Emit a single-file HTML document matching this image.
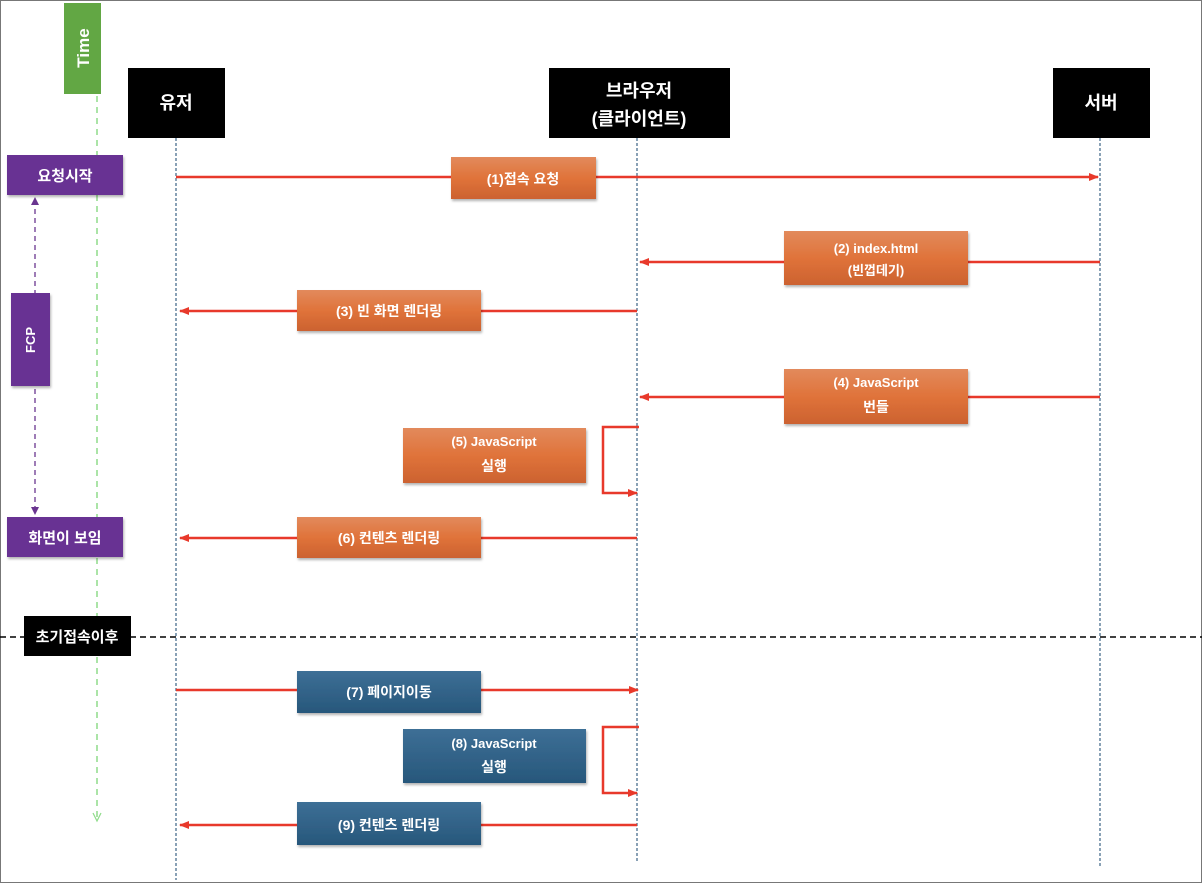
<!DOCTYPE html>
<html><head><meta charset="utf-8"><style>
html,body{margin:0;padding:0;background:#fff}
svg text{font-family:"Liberation Sans","Noto Sans CJK KR","NanumGothic",sans-serif;font-weight:bold;fill:#fff}
</style></head><body>
<svg width="1202" height="883" viewBox="0 0 1202 883" xmlns="http://www.w3.org/2000/svg">
<defs>
<linearGradient id="og" x1="0" y1="0" x2="0" y2="1"><stop offset="0" stop-color="#e28a5c"/><stop offset="0.5" stop-color="#e0733a"/><stop offset="1" stop-color="#cc6230"/></linearGradient>
<linearGradient id="bg" x1="0" y1="0" x2="0" y2="1"><stop offset="0" stop-color="#3d6f96"/><stop offset="1" stop-color="#27577b"/></linearGradient>
<marker id="ar" markerWidth="10" markerHeight="8" refX="9" refY="4" orient="auto" markerUnits="userSpaceOnUse"><path d="M0,0 L10,4 L0,8 Z" fill="#e8392b"/></marker>
<marker id="pa" markerWidth="8" markerHeight="7" refX="7" refY="3.5" orient="auto" markerUnits="userSpaceOnUse"><path d="M0,0 L8,3.5 L0,7 Z" fill="#6a3590"/></marker>
<filter id="sh" x="-10%" y="-10%" width="130%" height="140%"><feDropShadow dx="1" dy="2" stdDeviation="1.2" flood-color="#000" flood-opacity="0.3"/></filter>
</defs>
<rect x="0.5" y="0.5" width="1201" height="882" fill="#fff" stroke="#777"/>
<!-- time -->
<line x1="97" y1="96" x2="97" y2="818" stroke="#8fdc8a" stroke-width="1.5" stroke-dasharray="6,5"/>
<path d="M93,813 L97,821 L101,813" fill="none" stroke="#8fdc8a" stroke-width="1.2"/>
<rect x="64" y="3" width="37" height="91" fill="#62a744"/>
<text transform="translate(89,48) rotate(-90)" font-size="17" text-anchor="middle">Time</text>
<!-- lifelines -->
<line x1="176" y1="138" x2="176" y2="880" stroke="#4a6f8e" stroke-width="1.3" stroke-dasharray="3,2"/>
<line x1="637" y1="138" x2="637" y2="862" stroke="#4a6f8e" stroke-width="1.3" stroke-dasharray="3,2"/>
<line x1="1100" y1="138" x2="1100" y2="866" stroke="#4a6f8e" stroke-width="1.3" stroke-dasharray="3,2"/>
<rect x="128" y="68" width="97" height="70" fill="#000"/>
<text x="176" y="109" font-size="18" text-anchor="middle">유저</text>
<rect x="549" y="68" width="181" height="70" fill="#000"/>
<text x="639" y="97" font-size="18" text-anchor="middle">브라우저</text>
<text x="639" y="125" font-size="18" text-anchor="middle">(클라이언트)</text>
<rect x="1053" y="68" width="97" height="70" fill="#000"/>
<text x="1101" y="109" font-size="18" text-anchor="middle">서버</text>
<!-- purple -->
<line x1="35" y1="200" x2="35" y2="512" stroke="#6a3590" stroke-width="1.3" stroke-dasharray="5,4"/>
<path d="M31,205 L35,197 L39,205" fill="#6a3590"/>
<path d="M31,507 L35,515 L39,507" fill="#6a3590"/>
<rect x="7" y="155" width="116" height="40" fill="#683393" filter="url(#sh)"/>
<text x="65" y="181" font-size="15" text-anchor="middle">요청시작</text>
<rect x="11" y="293" width="39" height="93" fill="#683393" filter="url(#sh)"/>
<text transform="translate(35,340) rotate(-90)" font-size="13" text-anchor="middle">FCP</text>
<rect x="7" y="517" width="116" height="40" fill="#683393" filter="url(#sh)"/>
<text x="65" y="543" font-size="15" text-anchor="middle">화면이 보임</text>
<!-- divider -->
<line x1="0" y1="637" x2="1202" y2="637" stroke="#000" stroke-width="1.5" stroke-dasharray="6,4"/>
<rect x="24" y="616" width="107" height="40" fill="#000"/>
<text x="77" y="642" font-size="15" text-anchor="middle">초기접속이후</text>
<!-- arrows -->
<g stroke="#e8392b" stroke-width="2.5" fill="none">
<line x1="176" y1="177" x2="1098" y2="177" marker-end="url(#ar)"/>
<line x1="1100" y1="262" x2="640" y2="262" marker-end="url(#ar)"/>
<line x1="637" y1="311" x2="180" y2="311" marker-end="url(#ar)"/>
<line x1="1100" y1="397" x2="640" y2="397" marker-end="url(#ar)"/>
<path d="M639,427 L603,427 L603,493 L637,493" marker-end="url(#ar)"/>
<line x1="637" y1="538" x2="180" y2="538" marker-end="url(#ar)"/>
<line x1="176" y1="690" x2="638" y2="690" marker-end="url(#ar)"/>
<path d="M639,727 L603,727 L603,793 L637,793" marker-end="url(#ar)"/>
<line x1="637" y1="825" x2="180" y2="825" marker-end="url(#ar)"/>
</g>
<!-- labels -->
<g filter="url(#sh)">
<rect x="451" y="157" width="145" height="42" fill="url(#og)"/>
<rect x="784" y="231" width="184" height="54" fill="url(#og)"/>
<rect x="297" y="290" width="184" height="41" fill="url(#og)"/>
<rect x="784" y="369" width="184" height="55" fill="url(#og)"/>
<rect x="403" y="428" width="183" height="55" fill="url(#og)"/>
<rect x="297" y="517" width="184" height="41" fill="url(#og)"/>
<rect x="297" y="671" width="184" height="42" fill="url(#bg)"/>
<rect x="403" y="729" width="183" height="54" fill="url(#bg)"/>
<rect x="297" y="802" width="184" height="43" fill="url(#bg)"/>
</g>
<text x="523" y="184" font-size="14" text-anchor="middle">(1)접속 요청</text>
<text x="876" y="253" font-size="13" text-anchor="middle">(2)  index.html</text>
<text x="876" y="275" font-size="13" text-anchor="middle">(빈껍데기)</text>
<text x="389" y="316" font-size="14" text-anchor="middle">(3) 빈 화면 렌더링</text>
<text x="876" y="387" font-size="13" text-anchor="middle">(4) JavaScript</text>
<text x="876" y="412" font-size="14" text-anchor="middle">번들</text>
<text x="494" y="446" font-size="13" text-anchor="middle">(5) JavaScript</text>
<text x="494" y="471" font-size="14" text-anchor="middle">실행</text>
<text x="389" y="543" font-size="14" text-anchor="middle">(6) 컨텐츠 렌더링</text>
<text x="389" y="697" font-size="14" text-anchor="middle">(7) 페이지이동</text>
<text x="494" y="748" font-size="13" text-anchor="middle">(8) JavaScript</text>
<text x="494" y="772" font-size="14" text-anchor="middle">실행</text>
<text x="389" y="830" font-size="14" text-anchor="middle">(9) 컨텐츠 렌더링</text>
</svg>
</body></html>
